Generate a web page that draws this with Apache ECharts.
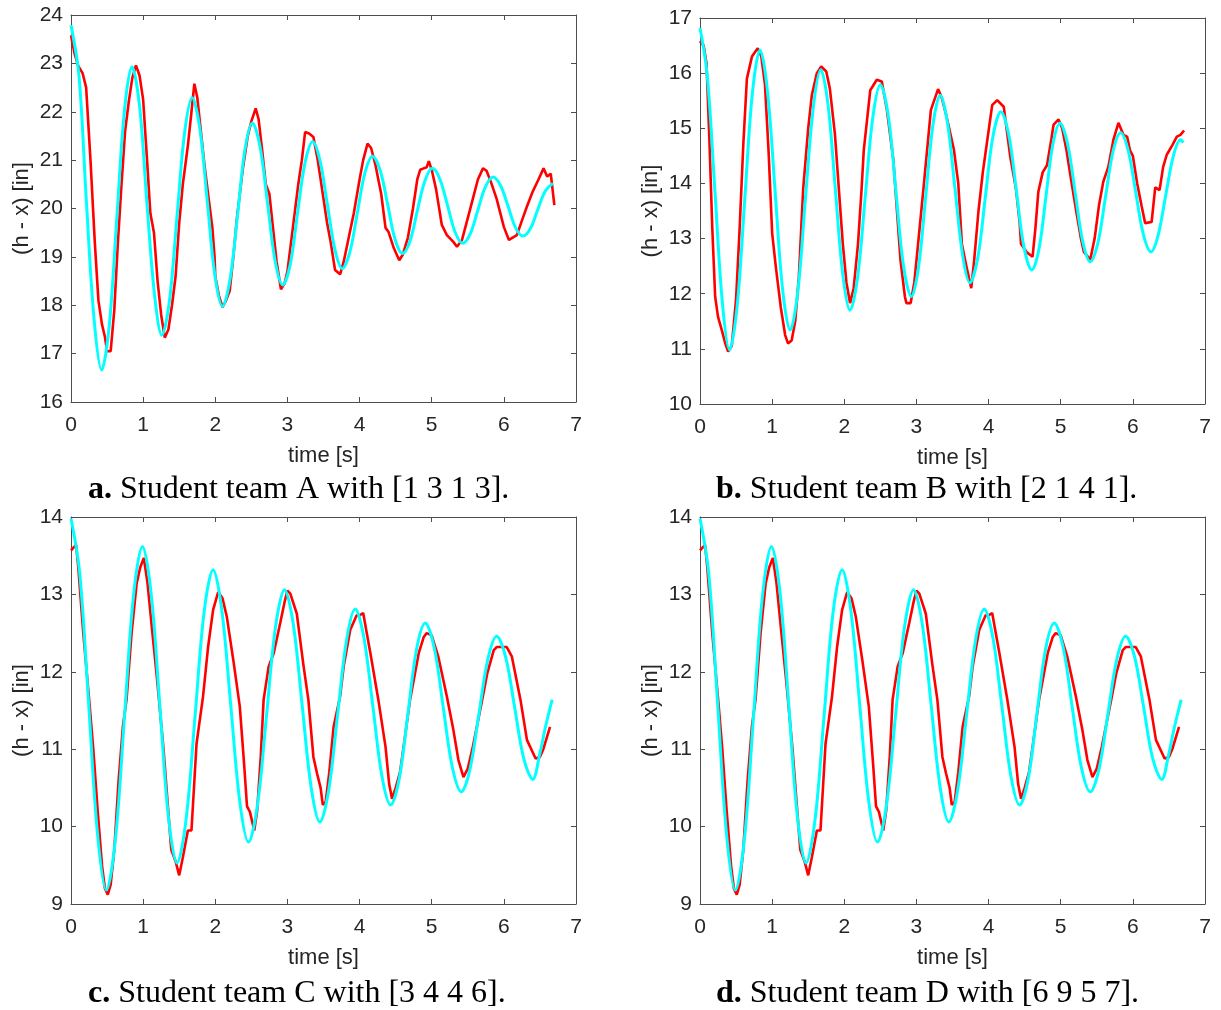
<!DOCTYPE html>
<html>
<head>
<meta charset="utf-8">
<script src="https://cdn.jsdelivr.net/npm/echarts@6/dist/echarts.min.js"></script>
<style>
html,body{margin:0;padding:0;background:#fff;}
#chart{width:1221px;height:1010px;}
</style>
</head>
<body>
<div id="chart"></div>
<script>
// ---------- tick labels / axis ranges ----------
const xTicks = [0, 7, 1];
const yRangeA = [16, 24];
const yRangeB = [10, 17];
const yRangeC = [9, 14];
const yRangeD = [9, 14];
const xTitle = 'time [s]';
const yTitle = '(h - x) [in]';
const captions = [
  ['a.', ' Student team A with [1 3 1 3].'],
  ['b.', ' Student team B with [2 1 4 1].'],
  ['c.', ' Student team C with [3 4 4 6].'],
  ['d.', ' Student team D with [6 9 5 7].']
];

// ---------- Team A : measured (red) and model (cyan) ----------
const teamA_measured = [[0,23.58],[0.05,23.2],[0.1,22.95],[0.16,22.8],[0.21,22.5],[0.27,21.0],[0.33,19.3],[0.38,18.1],[0.43,17.6],[0.47,17.35],[0.5,17.05],[0.55,17.05],[0.6,17.9],[0.65,19.3],[0.7,20.5],[0.75,21.6],[0.8,22.2],[0.85,22.7],[0.9,22.96],[0.95,22.75],[1.0,22.25],[1.05,21.1],[1.1,19.9],[1.15,19.5],[1.2,18.5],[1.25,17.8],[1.3,17.33],[1.35,17.5],[1.4,18.0],[1.45,18.6],[1.5,19.7],[1.55,20.5],[1.62,21.3],[1.67,22.0],[1.71,22.58],[1.75,22.3],[1.8,21.6],[1.85,20.9],[1.9,20.3],[1.96,19.6],[1.99,19.0],[2.0,18.6],[2.05,18.2],[2.1,17.96],[2.15,18.1],[2.2,18.3],[2.25,19.0],[2.3,19.8],[2.38,20.8],[2.45,21.5],[2.5,21.8],[2.56,22.07],[2.6,21.85],[2.65,21.2],[2.7,20.5],[2.75,20.3],[2.8,19.6],[2.85,18.9],[2.91,18.33],[2.96,18.45],[3.0,18.7],[3.05,19.3],[3.1,19.9],[3.15,20.5],[3.2,21.0],[3.245,21.58],[3.3,21.55],[3.36,21.48],[3.42,21.0],[3.48,20.4],[3.55,19.7],[3.6,19.3],[3.66,18.73],[3.73,18.64],[3.78,18.9],[3.85,19.4],[3.92,19.9],[4.0,20.6],[4.05,21.0],[4.11,21.34],[4.16,21.25],[4.22,20.9],[4.3,20.3],[4.36,19.6],[4.4,19.52],[4.47,19.2],[4.55,18.93],[4.6,19.05],[4.67,19.4],[4.74,20.0],[4.8,20.6],[4.84,20.8],[4.89,20.83],[4.93,20.85],[4.96,20.98],[5.0,20.8],[5.06,20.4],[5.14,19.66],[5.21,19.45],[5.3,19.31],[5.35,19.21],[5.42,19.35],[5.5,19.8],[5.57,20.2],[5.64,20.6],[5.71,20.83],[5.76,20.78],[5.82,20.55],[5.9,20.2],[6.0,19.62],[6.07,19.35],[6.18,19.45],[6.25,19.75],[6.32,20.04],[6.4,20.35],[6.48,20.6],[6.55,20.83],[6.6,20.66],[6.65,20.72],[6.7,20.07]];
const teamA_model = [[0,23.79],[0.11,22.75],[0.21,20.23],[0.32,17.71],[0.425,16.66],[0.53,17.58],[0.635,19.80],[0.74,22.01],[0.845,22.93],[0.95,22.12],[1.05,20.16],[1.16,18.19],[1.26,17.38],[1.365,18.10],[1.47,19.84],[1.575,21.57],[1.68,22.29],[1.785,21.66],[1.89,20.14],[1.995,18.61],[2.10,17.98],[2.205,18.54],[2.31,19.88],[2.41,21.21],[2.515,21.77],[2.62,21.28],[2.725,20.10],[2.83,18.91],[2.935,18.42],[3.04,18.85],[3.14,19.90],[3.245,20.95],[3.35,21.38],[3.45,21.00],[3.555,20.07],[3.66,19.14],[3.76,18.76],[3.865,19.10],[3.97,19.92],[4.075,20.74],[4.18,21.08],[4.285,20.79],[4.39,20.08],[4.49,19.37],[4.595,19.07],[4.70,19.33],[4.80,19.95],[4.905,20.57],[5.01,20.83],[5.115,20.60],[5.22,20.06],[5.325,19.51],[5.43,19.28],[5.535,19.48],[5.64,19.97],[5.745,20.45],[5.85,20.65],[5.955,20.47],[6.06,20.04],[6.16,19.61],[6.265,19.43],[6.37,19.59],[6.47,19.98],[6.575,20.36],[6.68,20.52]];

// ---------- Team B ----------
const teamB_measured = [[0,16.58],[0.05,16.5],[0.09,16.18],[0.13,14.8],[0.17,13.2],[0.21,11.95],[0.25,11.58],[0.3,11.35],[0.35,11.1],[0.39,10.95],[0.44,11.05],[0.5,11.9],[0.55,13.2],[0.6,14.7],[0.65,15.9],[0.72,16.3],[0.8,16.45],[0.85,16.3],[0.9,15.8],[0.95,14.6],[1.0,13.1],[1.05,12.5],[1.12,11.75],[1.18,11.25],[1.22,11.10],[1.27,11.15],[1.32,11.5],[1.37,12.3],[1.43,13.9],[1.5,15.0],[1.55,15.6],[1.62,16.0],[1.68,16.12],[1.75,16.03],[1.8,15.72],[1.87,14.9],[1.93,13.8],[1.98,12.9],[2.03,12.2],[2.08,11.83],[2.13,12.1],[2.19,12.9],[2.24,13.9],[2.27,14.6],[2.36,15.69],[2.45,15.88],[2.52,15.85],[2.59,15.34],[2.68,14.43],[2.73,13.5],[2.78,12.6],[2.84,11.95],[2.86,11.83],[2.92,11.83],[2.97,12.2],[3.03,13.0],[3.10,13.94],[3.20,15.33],[3.30,15.71],[3.35,15.56],[3.42,15.2],[3.52,14.61],[3.58,14.0],[3.63,12.9],[3.70,12.45],[3.76,12.10],[3.80,12.6],[3.86,13.5],[3.92,14.2],[3.97,14.67],[4.05,15.42],[4.12,15.51],[4.21,15.39],[4.30,14.49],[4.38,13.9],[4.43,13.3],[4.45,12.9],[4.53,12.75],[4.61,12.67],[4.65,13.2],[4.69,13.85],[4.75,14.2],[4.81,14.33],[4.87,14.8],[4.90,15.06],[4.97,15.16],[5.02,15.0],[5.08,14.6],[5.13,14.18],[5.22,13.46],[5.28,13.0],[5.32,12.76],[5.41,12.62],[5.47,13.0],[5.53,13.6],[5.59,14.03],[5.66,14.30],[5.73,14.79],[5.80,15.10],[5.87,14.88],[5.92,14.85],[5.96,14.6],[6.0,14.5],[6.06,14.0],[6.12,13.6],[6.17,13.28],[6.26,13.3],[6.31,13.93],[6.37,13.88],[6.42,14.3],[6.47,14.52],[6.55,14.7],[6.61,14.85],[6.66,14.88],[6.71,14.96]];
const teamB_model = [[0,16.82],[0.10,15.96],[0.205,13.90],[0.31,11.84],[0.41,10.98],[0.515,11.78],[0.62,13.70],[0.725,15.62],[0.832,16.42],[0.935,15.68],[1.04,13.88],[1.145,12.08],[1.25,11.34],[1.355,12.03],[1.46,13.70],[1.57,15.37],[1.674,16.06],[1.775,15.42],[1.877,13.88],[1.98,12.34],[2.08,11.70],[2.185,12.30],[2.29,13.75],[2.395,15.19],[2.50,15.79],[2.61,15.23],[2.715,13.87],[2.82,12.51],[2.93,11.95],[3.03,12.49],[3.13,13.78],[3.23,15.07],[3.33,15.60],[3.43,15.10],[3.535,13.90],[3.64,12.70],[3.74,12.20],[3.85,12.65],[3.955,13.75],[4.06,14.85],[4.17,15.30],[4.28,14.88],[4.385,13.87],[4.49,12.85],[4.60,12.43],[4.70,12.82],[4.795,13.76],[4.89,14.70],[4.99,15.09],[5.095,14.72],[5.20,13.84],[5.305,12.95],[5.41,12.58],[5.515,12.92],[5.62,13.75],[5.725,14.58],[5.83,14.92],[5.935,14.60],[6.04,13.84],[6.145,13.08],[6.25,12.76],[6.35,13.06],[6.455,13.78],[6.56,14.49],[6.66,14.79],[6.70,14.74]];

// ---------- Team C ----------
const teamC_measured = [[0,13.57],[0.07,13.64],[0.10,13.36],[0.17,12.5],[0.26,11.55],[0.31,10.99],[0.37,10.2],[0.43,9.5],[0.47,9.2],[0.51,9.12],[0.55,9.25],[0.6,9.7],[0.66,10.6],[0.72,11.3],[0.77,11.64],[0.84,12.5],[0.91,13.14],[0.96,13.35],[1.01,13.47],[1.06,13.15],[1.12,12.58],[1.19,11.93],[1.28,11.03],[1.34,10.3],[1.39,9.7],[1.45,9.55],[1.5,9.37],[1.55,9.6],[1.62,9.95],[1.67,9.95],[1.74,11.07],[1.83,11.68],[1.90,12.32],[1.97,12.80],[2.04,13.03],[2.1,12.95],[2.16,12.71],[2.25,12.15],[2.34,11.55],[2.40,10.8],[2.44,10.26],[2.48,10.19],[2.54,9.95],[2.58,10.2],[2.63,10.9],[2.67,11.64],[2.74,12.07],[2.81,12.24],[2.90,12.63],[2.96,12.9],[3.0,13.05],[3.04,13.01],[3.13,12.75],[3.22,12.1],[3.29,11.64],[3.36,10.9],[3.41,10.69],[3.46,10.5],[3.49,10.28],[3.53,10.32],[3.58,10.7],[3.64,11.29],[3.73,11.68],[3.78,12.07],[3.87,12.54],[3.96,12.73],[4.0,12.73],[4.05,12.76],[4.15,12.24],[4.26,11.64],[4.36,11.03],[4.41,10.55],[4.45,10.36],[4.5,10.5],[4.56,10.7],[4.61,11.03],[4.70,11.64],[4.82,12.24],[4.89,12.45],[4.93,12.50],[5.0,12.47],[5.09,12.2],[5.21,11.68],[5.30,11.25],[5.37,10.86],[5.44,10.64],[5.5,10.75],[5.57,11.03],[5.70,11.64],[5.77,11.98],[5.86,12.28],[5.90,12.32],[6.04,12.32],[6.11,12.2],[6.23,11.64],[6.32,11.12],[6.38,11.0],[6.44,10.88],[6.5,10.9],[6.55,11.01],[6.64,11.29]];
const teamC_model = [[0,13.98],[0.12,13.28],[0.245,11.58],[0.37,9.88],[0.49,9.18],[0.615,9.83],[0.74,11.40],[0.865,12.97],[0.99,13.62],[1.11,13.02],[1.23,11.58],[1.35,10.13],[1.47,9.53],[1.595,10.09],[1.72,11.43],[1.845,12.77],[1.97,13.32],[2.09,12.80],[2.215,11.56],[2.34,10.32],[2.46,9.80],[2.585,10.28],[2.71,11.43],[2.835,12.58],[2.96,13.06],[3.08,12.62],[3.205,11.56],[3.33,10.50],[3.45,10.06],[3.57,10.46],[3.695,11.44],[3.82,12.41],[3.94,12.81],[4.06,12.44],[4.185,11.55],[4.31,10.65],[4.43,10.28],[4.55,10.62],[4.67,11.46],[4.79,12.29],[4.91,12.63],[5.035,12.31],[5.16,11.54],[5.285,10.77],[5.41,10.45],[5.53,10.74],[5.655,11.46],[5.78,12.17],[5.90,12.46],[6.025,12.19],[6.15,11.54],[6.275,10.88],[6.40,10.61],[6.50,10.95],[6.58,11.30],[6.67,11.64]];

// ---------- Team D (identical traces in the figure) ----------
const teamD_measured = [[0,13.57],[0.07,13.64],[0.10,13.36],[0.17,12.5],[0.26,11.55],[0.31,10.99],[0.37,10.2],[0.43,9.5],[0.47,9.2],[0.51,9.12],[0.55,9.25],[0.6,9.7],[0.66,10.6],[0.72,11.3],[0.77,11.64],[0.84,12.5],[0.91,13.14],[0.96,13.35],[1.01,13.47],[1.06,13.15],[1.12,12.58],[1.19,11.93],[1.28,11.03],[1.34,10.3],[1.39,9.7],[1.45,9.55],[1.5,9.37],[1.55,9.6],[1.62,9.95],[1.67,9.95],[1.74,11.07],[1.83,11.68],[1.90,12.32],[1.97,12.80],[2.04,13.03],[2.1,12.95],[2.16,12.71],[2.25,12.15],[2.34,11.55],[2.40,10.8],[2.44,10.26],[2.48,10.19],[2.54,9.95],[2.58,10.2],[2.63,10.9],[2.67,11.64],[2.74,12.07],[2.81,12.24],[2.90,12.63],[2.96,12.9],[3.0,13.05],[3.04,13.01],[3.13,12.75],[3.22,12.1],[3.29,11.64],[3.36,10.9],[3.41,10.69],[3.46,10.5],[3.49,10.28],[3.53,10.32],[3.58,10.7],[3.64,11.29],[3.73,11.68],[3.78,12.07],[3.87,12.54],[3.96,12.73],[4.0,12.73],[4.05,12.76],[4.15,12.24],[4.26,11.64],[4.36,11.03],[4.41,10.55],[4.45,10.36],[4.5,10.5],[4.56,10.7],[4.61,11.03],[4.70,11.64],[4.82,12.24],[4.89,12.45],[4.93,12.50],[5.0,12.47],[5.09,12.2],[5.21,11.68],[5.30,11.25],[5.37,10.86],[5.44,10.64],[5.5,10.75],[5.57,11.03],[5.70,11.64],[5.77,11.98],[5.86,12.28],[5.90,12.32],[6.04,12.32],[6.11,12.2],[6.23,11.64],[6.32,11.12],[6.38,11.0],[6.44,10.88],[6.5,10.9],[6.55,11.01],[6.64,11.29]];
const teamD_model = [[0,13.98],[0.12,13.28],[0.245,11.58],[0.37,9.88],[0.49,9.18],[0.615,9.83],[0.74,11.40],[0.865,12.97],[0.99,13.62],[1.11,13.02],[1.23,11.58],[1.35,10.13],[1.47,9.53],[1.595,10.09],[1.72,11.43],[1.845,12.77],[1.97,13.32],[2.09,12.80],[2.215,11.56],[2.34,10.32],[2.46,9.80],[2.585,10.28],[2.71,11.43],[2.835,12.58],[2.96,13.06],[3.08,12.62],[3.205,11.56],[3.33,10.50],[3.45,10.06],[3.57,10.46],[3.695,11.44],[3.82,12.41],[3.94,12.81],[4.06,12.44],[4.185,11.55],[4.31,10.65],[4.43,10.28],[4.55,10.62],[4.67,11.46],[4.79,12.29],[4.91,12.63],[5.035,12.31],[5.16,11.54],[5.285,10.77],[5.41,10.45],[5.53,10.74],[5.655,11.46],[5.78,12.17],[5.90,12.46],[6.025,12.19],[6.15,11.54],[6.275,10.88],[6.40,10.61],[6.50,10.95],[6.58,11.30],[6.67,11.64]];

// ---------- layout ----------
const panels = [
  {grid:{left:71, top:15, width:505, height:387}, y:yRangeA, meas:teamA_measured, model:teamA_model, cap:captions[0], capX:88, capY:490},
  {grid:{left:700, top:18, width:505, height:386}, y:yRangeB, meas:teamB_measured, model:teamB_model, cap:captions[1], capX:716, capY:490},
  {grid:{left:71, top:517, width:505, height:387}, y:yRangeC, meas:teamC_measured, model:teamC_model, cap:captions[2], capX:88, capY:994},
  {grid:{left:700, top:517, width:505, height:387}, y:yRangeD, meas:teamD_measured, model:teamD_model, cap:captions[3], capX:716, capY:994}
];

const SANS = 'Liberation Sans, Arial, Helvetica, sans-serif';
const SERIF = 'Liberation Serif, Times New Roman, serif';
const AXC = '#4d4d4d';
const TXT = '#262626';

const grids = [], xAxes = [], yAxes = [], series = [], graphics = [];
panels.forEach((p, i) => {
  grids.push(Object.assign({containLabel:false}, p.grid));
  const lineStyle = {color: AXC, width: 1};
  const tick = {show:true, inside:true, length:5, lineStyle:{color:AXC, width:1}};
  xAxes.push({gridIndex:i, type:'value', min:xTicks[0], max:xTicks[1], interval:xTicks[2], position:'bottom',
    axisLine:{show:true, onZero:false, lineStyle}, axisTick:tick, splitLine:{show:false},
    axisLabel:{show:true, color:TXT, fontSize:21, fontFamily:SANS, margin:13},
    name:xTitle, nameLocation:'middle', nameGap:43, nameTextStyle:{color:TXT, fontSize:22, fontFamily:SANS}});
  xAxes.push({gridIndex:i, type:'value', min:xTicks[0], max:xTicks[1], interval:xTicks[2], position:'top',
    axisLine:{show:true, onZero:false, lineStyle}, axisTick:tick, splitLine:{show:false}, axisLabel:{show:false}});
  yAxes.push({gridIndex:i, type:'value', min:p.y[0], max:p.y[1], interval:1, position:'left',
    axisLine:{show:true, onZero:false, lineStyle}, axisTick:tick, splitLine:{show:false},
    axisLabel:{show:true, color:TXT, fontSize:21, fontFamily:SANS, margin:8},
    name:yTitle, nameLocation:'middle', nameGap:38, nameRotate:90, nameTextStyle:{color:TXT, fontSize:22, fontFamily:SANS}});
  yAxes.push({gridIndex:i, type:'value', min:p.y[0], max:p.y[1], interval:1, position:'right',
    axisLine:{show:true, onZero:false, lineStyle}, axisTick:tick, splitLine:{show:false}, axisLabel:{show:false}});

  series.push({type:'line', xAxisIndex:2*i, yAxisIndex:2*i, data:p.meas, showSymbol:false, smooth:false,
    lineStyle:{color:'#ff0000', width:2.6}, z:3, silent:true});
  series.push({type:'line', xAxisIndex:2*i, yAxisIndex:2*i, data:p.model, showSymbol:false, smooth:0.35,
    lineStyle:{color:'#00ffff', width:3}, z:4, silent:true});

  graphics.push({type:'text', x:p.capX, y:p.capY,
    style:{text:'{b|' + p.cap[0] + '}{n|' + p.cap[1] + '}', verticalAlign:'middle', fill:'#000',
      rich:{b:{fontWeight:'bold', fontSize:32, fontFamily:SERIF, fill:'#000'},
            n:{fontSize:32, fontFamily:SERIF, fill:'#000'}}}});
});

const chart = echarts.init(document.getElementById('chart'), null, {renderer:'canvas'});
chart.setOption({
  animation:false,
  backgroundColor:'#ffffff',
  grid:grids, xAxis:xAxes, yAxis:yAxes, series:series, graphic:graphics
});
</script>
</body>
</html>
